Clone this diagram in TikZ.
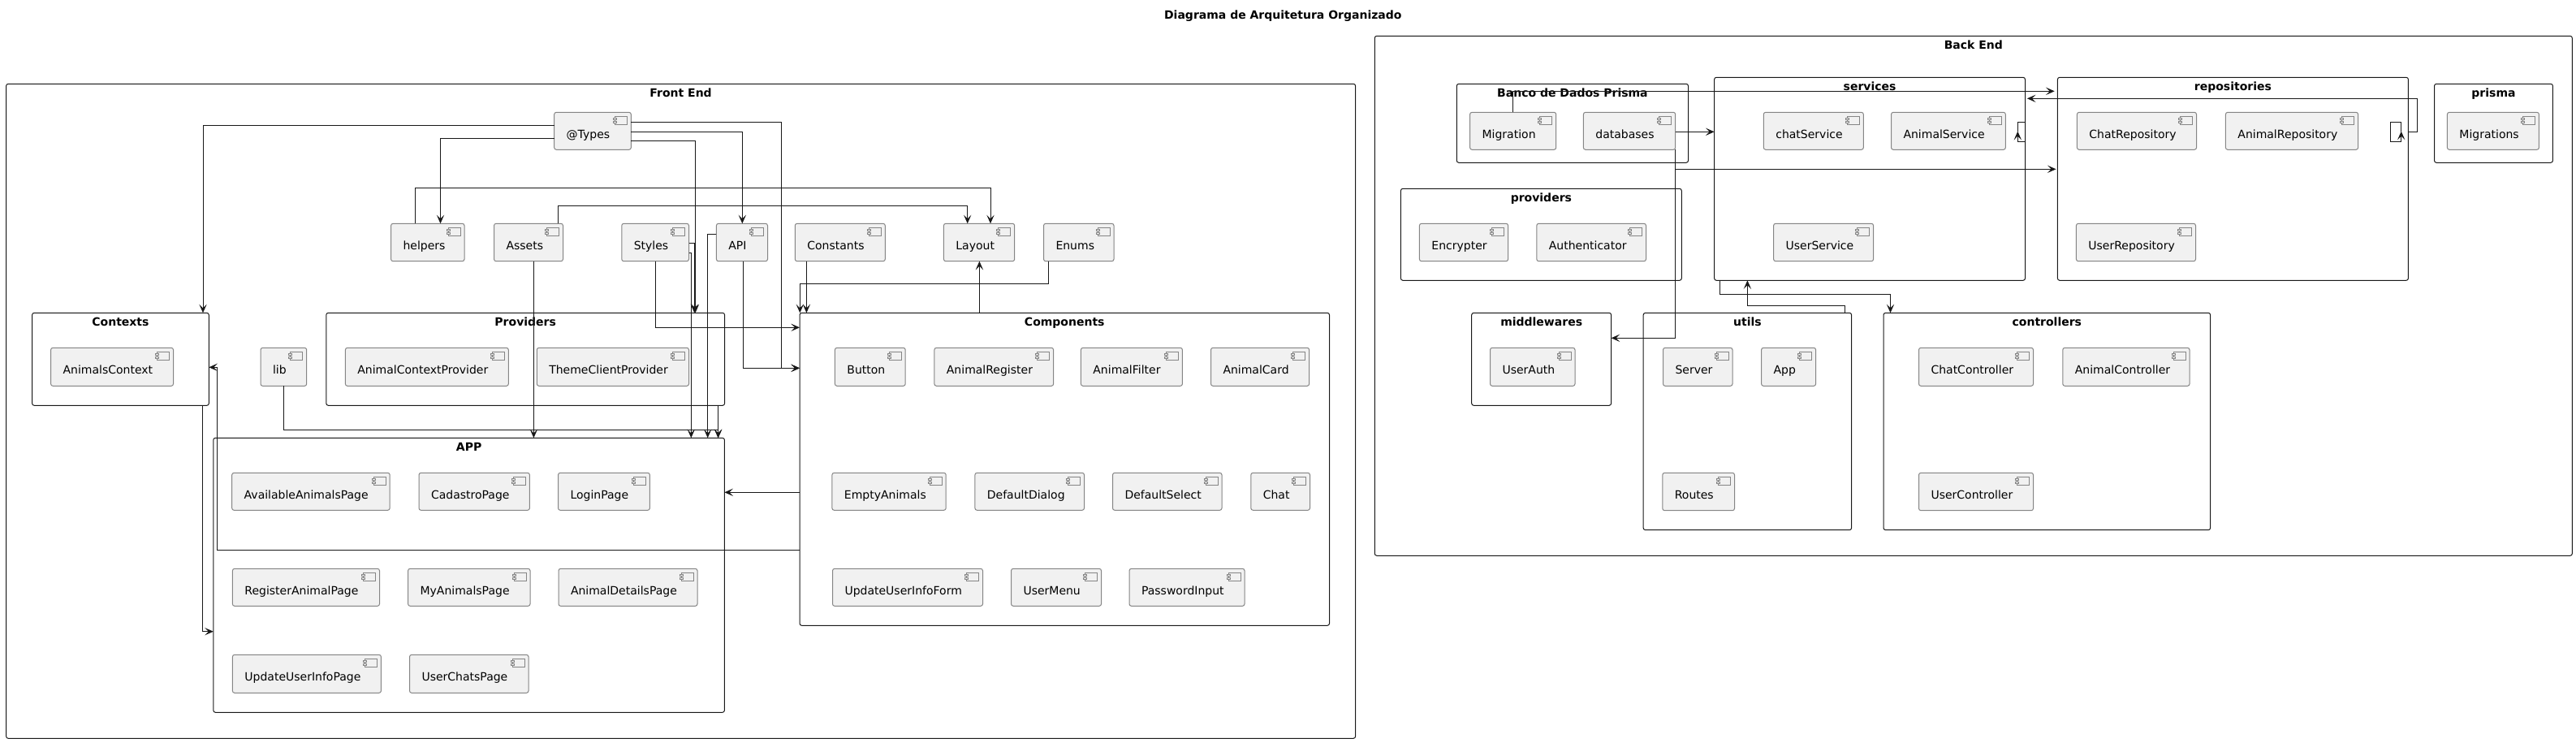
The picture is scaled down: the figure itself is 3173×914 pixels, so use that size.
\documentclass[tikz,border=0pt]{standalone}
\usepackage{fontspec}
\setmainfont{DejaVu Sans}
\usetikzlibrary{arrows.meta}
\definecolor{ln}{HTML}{181818}
\definecolor{compfill}{HTML}{F1F1F1}
\definecolor{compline}{HTML}{858585}
\tikzset{
  compnode/.style={draw=compline,fill=compfill,line width=.75pt,rounded corners=1.9pt,inner sep=0pt,outer sep=0pt},
  complabel/.style={anchor=base west,inner sep=0pt,outer sep=0pt,font=\fontsize{10.5pt}{12pt}\selectfont,text=black},
  iconline/.style={draw=compline,line width=.5pt,fill=compfill},
  groupnode/.style={draw=ln,line width=.75pt,rounded corners=1.9pt,inner sep=0pt,outer sep=0pt},
  grouplabel/.style={anchor=base,inner sep=0pt,outer sep=0pt,font=\bfseries\fontsize{10.5pt}{12pt}\selectfont,text=black},
  plainconn/.style={draw=ln,line width=.75pt},
  conn/.style={plainconn,-{Stealth[length=8pt,width=7pt,inset=3.6pt,fill=ln]}},
}
\newcommand\compbox[6]{%
  \pgfmathsetmacro\bxc{(#2+#4)/2}\pgfmathsetmacro\byc{(#3+#5)/2}%
  \pgfmathsetmacro\bxw{(#4-#2)*0.75}\pgfmathsetmacro\byh{(#5-#3)*0.75}%
  \node[compnode,minimum width=\bxw pt,minimum height=\byh pt] (#1) at (\bxc,\byc) {};
  \node[complabel] (#1-label) at (#2+15,#3+32.5) {#6};
  \draw[iconline] (#4-20,#3+5.5) rectangle (#4-5,#3+15.5);
  \draw[iconline] (#4-22,#3+7.5) rectangle (#4-18,#3+9.5);
  \draw[iconline] (#4-22,#3+11.5) rectangle (#4-18,#3+13.5);
}
\newcommand\groupbox[6]{%
  \pgfmathsetmacro\bxc{(#2+#4)/2}\pgfmathsetmacro\byc{(#3+#5)/2}%
  \pgfmathsetmacro\bxw{(#4-#2)*0.75}\pgfmathsetmacro\byh{(#5-#3)*0.75}%
  \node[groupnode,minimum width=\bxw pt,minimum height=\byh pt] (#1) at (\bxc,\byc) {};
  \node[grouplabel] (#1-label) at (\bxc,#3+16) {#6};
}
\begin{document}
\begin{tikzpicture}[x=0.75pt,y=-0.75pt]
\useasboundingbox (0,0) rectangle (3173,914);
\fill[white] (0,0) rectangle (3173,914);
\node[grouplabel] (title) at (1580.3,23) {Diagrama de Arquitetura Organizado};

% ---------- Front End
\groupbox{gFront}{7.6}{103.3}{1669.6}{909.3}{Front End}
\groupbox{gCtx}{39.6}{385.3}{257.3}{499.3}{Contexts}
\groupbox{gProv}{401.8}{385.3}{892.6}{499.3}{Providers}
\groupbox{gApp}{262.8}{539.3}{892.4}{877.3}{APP}
\groupbox{gComp}{985}{385.3}{1637.5}{770.3}{Components}

\compbox{types}{682.7}{138.3}{777.3}{184.3}{@Types}
\compbox{helpers}{481.6}{275.3}{572}{321.7}{helpers}
\compbox{assets}{608.5}{275.3}{693.5}{321.7}{Assets}
\compbox{styles}{765.8}{275.3}{848.5}{321.7}{Styles}
\compbox{api}{882.4}{275.3}{945.5}{321.7}{API}
\compbox{constants}{979.3}{275.3}{1090.3}{321.7}{Constants}
\compbox{layout}{1162.4}{275.3}{1249.7}{321.7}{Layout}
\compbox{enums}{1285.5}{275.3}{1372}{321.7}{Enums}
\compbox{animalsctx}{62.6}{428.3}{213.5}{475.3}{AnimalsContext}
\compbox{lib}{321}{428.3}{377.7}{475.3}{lib}
\compbox{animalprov}{425.4}{428.3}{626.3}{475.3}{AnimalContextProvider}
\compbox{themeprov}{661.3}{428.3}{848.5}{475.3}{ThemeClientProvider}

\compbox{availpage}{285.7}{582.3}{480.2}{628.3}{AvailableAnimalsPage}
\compbox{cadpage}{516}{582.3}{652.4}{628.3}{CadastroPage}
\compbox{loginpage}{687.5}{582.3}{800.4}{628.3}{LoginPage}
\compbox{regpage}{286.4}{700.3}{467.5}{746.3}{RegisterAnimalPage}
\compbox{mypage}{502.6}{700.3}{653}{746.3}{MyAnimalsPage}
\compbox{detpage}{688}{700.3}{859}{746.3}{AnimalDetailsPage}
\compbox{updpage}{286.4}{806.3}{469.4}{853.3}{UpdateUserInfoPage}
\compbox{chatspage}{504.5}{806.3}{651}{853.3}{UserChatsPage}

\compbox{button}{1028.4}{428.3}{1115.2}{475.3}{Button}
\compbox{animreg}{1150.9}{428.3}{1297.6}{475.3}{AnimalRegister}
\compbox{animfilter}{1331.4}{428.3}{1456.4}{475.3}{AnimalFilter}
\compbox{animcard}{1491.5}{428.3}{1612.6}{475.3}{AnimalCard}
\compbox{emptyanim}{1024.9}{582.3}{1165.2}{628.3}{EmptyAnimals}
\compbox{defdialog}{1200.9}{582.3}{1335.5}{628.3}{DefaultDialog}
\compbox{defselect}{1370.5}{582.3}{1505}{628.3}{DefaultSelect}
\compbox{chat}{1540.8}{582.3}{1613.5}{628.3}{Chat}
\compbox{updform}{1025.5}{700.3}{1210.5}{746.3}{UpdateUserInfoForm}
\compbox{usermenu}{1245.5}{700.3}{1356.5}{746.3}{UserMenu}
\compbox{pwinput}{1391}{700.3}{1533}{746.3}{PasswordInput}

% ---------- Back End
\groupbox{gBack}{1693.3}{44.3}{3168.3}{684.3}{Back End}
\groupbox{gDb}{1794.3}{103.3}{2079.5}{200.3}{Banco de Dados Prisma}
\groupbox{gServ}{2111.6}{95.3}{2494.5}{345.3}{services}
\groupbox{gRepos}{2534.4}{95.3}{2966.4}{345.3}{repositories}
\groupbox{gPrisma}{2998.5}{103.3}{3144.4}{200.3}{prisma}
\groupbox{gProvB}{1725.4}{232.3}{2071.3}{345.3}{providers}
\groupbox{gMid}{1812.7}{385.3}{1984.6}{499.3}{middlewares}
\groupbox{gUtils}{2024.2}{385.3}{2280.6}{652.7}{utils}
\groupbox{gCtrl}{2320}{385.3}{2722.6}{652.7}{controllers}

\compbox{migration}{1810.6}{138.3}{1916.7}{184.3}{Migration}
\compbox{databases}{1950.4}{138.3}{2063.7}{184.3}{databases}
\compbox{chatserv}{2172.3}{138.3}{2295.3}{184.3}{chatService}
\compbox{animserv}{2329.5}{138.3}{2470.3}{184.3}{AnimalService}
\compbox{userserv}{2184.6}{275.3}{2307.6}{321.7}{UserService}
\compbox{chatrepo}{2558.4}{138.3}{2705.5}{184.3}{ChatRepository}
\compbox{animrepo}{2741.4}{138.3}{2904.6}{184.3}{AnimalRepository}
\compbox{userrepo}{2557.4}{275.3}{2704.5}{321.7}{UserRepository}
\compbox{migrations}{3014.4}{138.3}{3127.4}{184.3}{Migrations}
\compbox{encrypter}{1748.4}{275.3}{1857.6}{321.7}{Encrypter}
\compbox{authent}{1892.8}{275.3}{2027.5}{321.7}{Authenticator}
\compbox{userauth}{1835.5}{428.3}{1940}{475.3}{UserAuth}
\compbox{server}{2048.5}{428.3}{2134}{475.3}{Server}
\compbox{appc}{2169.6}{428.3}{2236.6}{475.3}{App}
\compbox{routes}{2047.8}{582.3}{2136.5}{628.7}{Routes}
\compbox{chatctrl}{2363.5}{428.3}{2504.5}{475.3}{ChatController}
\compbox{animctrl}{2540.8}{428.3}{2697}{475.3}{AnimalController}
\compbox{userctrl}{2363.5}{582.3}{2504.5}{628.7}{UserController}

% ---------- Front End connectors
\draw[conn] (types.west |- 0,154) -| (gCtx.north -| 250,0);
\draw[conn] (types.west |- 0,170) -| (helpers.north -| 542.5,0);
\draw[conn] (types.east |- 0,173.3) -| (gProv.north -| 856.5,0);
\draw[conn] (types.east |- 0,162.3) -| (api.north -| 914.3,0);
\draw[conn] (types.east |- 0,150.3) -| (962,453.3) -- (gComp.west |- 0,453.3);
\draw[conn] (helpers.north -| 511.5,0) -- (511.5,231) -| (layout.north -| 1220,0);
\draw[conn] (assets.north -| 687.7,0) -- (687.7,253.3) -| (layout.north -| 1191.7,0);
\draw[conn] (assets.south -| 657.4,0) -- (gApp.north -| 657.4,0);
\draw[conn] (styles.east |- 0,299.3) -| (gProv.north -| 855.3,0);
\draw[conn] (styles.east |- 0,311.7) -| (gApp.north -| 851.3,0);
\draw[conn] (styles.south -| 807.5,0) |- (gComp.west |- 0,403.3);
\draw[conn] (api.west |- 0,288.3) -| (gApp.north -| 871.7,0);
\draw[conn] (api.south -| 915.6,0) |- (gComp.west |- 0,453.3);
\draw[conn] (constants.south -| 993.4,0) -- (gComp.north -| 993.4,0);
\draw[conn] (enums.south -| 1291,0) -- (1291,349.3) -| (gComp.north -| 985.3,0);
\draw[conn] (gComp.north -| 1206.4,0) -- (layout.south -| 1206.4,0);
\draw[conn] (gComp.west |- 0,606.3) -- (gApp.east |- 0,606.3);
\draw[conn] (gComp.west |- 0,677.3) -- (267.7,677.3) |- (gCtx.east |- 0,452.3);
\draw[conn] (gCtx.south -| 249.4,0) |- (gApp.west |- 0,777.7);
\draw[conn] (lib.south -| 349.5,0) |- (884.6,529.3) -- (gApp.north -| 884.6,0);
\draw[conn] (gProv.south -| 884.6,0) -- (gApp.north -| 884.6,0);

% ---------- Back End connectors
\draw[conn,shorten >=2.8pt] (migration.north -| 1863.7,0) -- (1863.7,112.3) -- (gRepos.west |- 0,112.3);
\draw[conn] (databases.east |- 0,162.3) -- (gServ.west |- 0,162.3);
\draw[conn,shorten >=1.4pt] (databases.south -| 2063,0) |- (gRepos.west |- 0,208.3);
\draw[conn] (databases.south -| 2063.7,0) |- (gMid.east |- 0,416.3);
\draw[conn] (gServ.south -| 2118.3,0) -- (2118.3,362.3) -| (gCtrl.north -| 2328.5,0);
\draw[conn] (gUtils.north -| 2272.3,0) -- (2272.3,376.3) -| (gServ.south -| 2152.4,0);
\draw[conn,shorten >=1.8pt] (gRepos.east |- 0,162.3) -- (2977.3,162.3) |- (gServ.east |- 0,121.3);

% self-loops
\draw[plainconn] (gServ.east |- 0,150.3) -- (2485.3,150.3) -- (2485.3,162);
\draw[conn] (gServ.east |- 0,174.3) -- (2485.3,174.3) -- (2485.3,161.7);
\coordinate (repoloopA) at (2957.7,150.3);
\coordinate (repoloopB) at (2944.3,150.3);
\coordinate (repoloopC) at (2944.3,174.3);
\coordinate (repoloopD) at (2957.7,174.3);
\coordinate (repoloopT) at (2957.7,161.7);
\draw[plainconn] (repoloopT) -- (repoloopA) -- (repoloopB) -- (repoloopC) -- (repoloopD);
\draw[conn] (repoloopD) -- (repoloopT);
\end{tikzpicture}
\end{document}
